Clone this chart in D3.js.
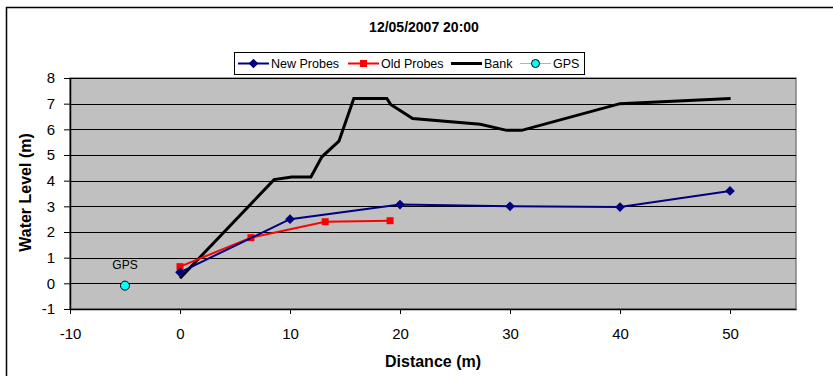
<!DOCTYPE html>
<html>
<head>
<meta charset="utf-8">
<script src="https://cdn.jsdelivr.net/npm/d3@7"></script>
<style>
  body { margin: 0; background: #fff; }
  svg { display: block; font-family: "Liberation Sans", Arial, sans-serif; }
</style>
</head>
<body>
<div id="chart"></div>
<script>
// values
const chartTitle = "12/05/2007 20:00"
const xTicks = [-10, 0, 10, 20, 30, 40, 50]
const yTicks = [-1, 0, 1, 2, 3, 4, 5, 6, 7, 8]

const newProbesX = [0, 10, 20, 30, 40, 50]
const newProbesY = [0.43, 2.5, 3.07, 3.0, 2.97, 3.6]

const oldProbesX = [0, 6.45, 13.2, 19.1]
const oldProbesY = [0.65, 1.78, 2.4, 2.44]

const bankX = [0, 8.55, 10.15, 11.9, 12.9, 14.45, 15.8, 18.8, 19.15, 21.15, 27.3, 29.7, 31.06, 40, 50.06]
const bankY = [0.2, 4.04, 4.14, 4.14, 4.93, 5.54, 7.2, 7.2, 6.97, 6.42, 6.2, 5.96, 5.96, 7.0, 7.2]

const gpsX = [-5]
const gpsY = [-0.09]

const zip = (xs, ys) => xs.map((x, i) => ({x: x, y: ys[i]}))

let dimensions = {
  width: 833,
  height: 376,
  margin: {top: 78, right: 37, bottom: 67, left: 70},
}
dimensions.boundedWidth = dimensions.width - dimensions.margin.left - dimensions.margin.right
dimensions.boundedHeight = dimensions.height - dimensions.margin.top - dimensions.margin.bottom

const svg = d3.select("#chart").append("svg")
    .attr("width", dimensions.width)
    .attr("height", dimensions.height)

// outer chart border (cropped on right and bottom)
svg.append("rect")
    .attr("x", 6.5).attr("y", 7.5)
    .attr("width", 840).attr("height", 380)
    .attr("fill", "#fff")
    .attr("stroke", "#000")
    .attr("stroke-width", 1.5)

const bounds = svg.append("g")
    .attr("transform", `translate(${dimensions.margin.left},${dimensions.margin.top})`)

const xScale = d3.scaleLinear()
    .domain([-10, 56])
    .range([0, dimensions.boundedWidth])

const yScale = d3.scaleLinear()
    .domain([-1, 8])
    .range([dimensions.boundedHeight, 0])

// plot area
bounds.append("rect")
    .attr("width", dimensions.boundedWidth)
    .attr("height", dimensions.boundedHeight)
    .attr("fill", "#c0c0c0")
    .attr("stroke", "#808080")
    .attr("stroke-width", 1.5)

// gridlines
bounds.append("g")
  .selectAll("line")
  .data(yTicks.filter(d => d > -1))
  .enter().append("line")
    .attr("x1", 0)
    .attr("x2", dimensions.boundedWidth)
    .attr("y1", d => Math.round(yScale(d)) + 0.5)
    .attr("y2", d => Math.round(yScale(d)) + 0.5)
    .attr("stroke", "#000")
    .attr("stroke-width", 1)

// axes
const plainFormat = d => String(d)
const xAxis = bounds.append("g")
    .attr("transform", `translate(0,${dimensions.boundedHeight})`)
    .call(d3.axisBottom(xScale).tickValues(xTicks).tickFormat(plainFormat).tickSize(5).tickSizeOuter(0))
const yAxis = bounds.append("g")
    .call(d3.axisLeft(yScale).tickValues(yTicks).tickFormat(plainFormat).tickSize(6).tickPadding(9).tickSizeOuter(0))

;[xAxis, yAxis].forEach(ax => {
  ax.select(".domain").attr("stroke", "#000").attr("stroke-width", 1.5)
  ax.selectAll(".tick line").attr("stroke", "#000")
  ax.selectAll(".tick text")
      .attr("font-family", "Liberation Sans, Arial, sans-serif")
      .attr("font-size", 15)
      .attr("fill", "#000")
})
xAxis.selectAll(".tick text").attr("y", 30).attr("dy", 0)

// axis titles
svg.append("text")
    .attr("x", dimensions.margin.left + xScale(23))
    .attr("y", 367)
    .attr("text-anchor", "middle")
    .attr("font-size", 16)
    .attr("font-weight", "bold")
    .text("Distance (m)")

svg.append("text")
    .attr("transform", `translate(31,${dimensions.margin.top + dimensions.boundedHeight / 2 - 1}) rotate(-90)`)
    .attr("text-anchor", "middle")
    .attr("font-size", 16)
    .attr("font-weight", "bold")
    .text("Water Level (m)")

svg.append("text")
    .attr("x", 424)
    .attr("y", 32)
    .attr("text-anchor", "middle")
    .attr("font-size", 14)
    .attr("font-weight", "bold")
    .text(chartTitle)

// series
const lineGen = d3.line().x(d => xScale(d.x)).y(d => yScale(d.y))

bounds.append("path")
    .datum(zip(bankX, bankY))
    .attr("d", lineGen)
    .attr("fill", "none")
    .attr("stroke", "#000")
    .attr("stroke-width", 3)
    .attr("stroke-linejoin", "miter")

bounds.append("path")
    .datum(zip(oldProbesX, oldProbesY))
    .attr("d", lineGen)
    .attr("fill", "none")
    .attr("stroke", "#ff0000")
    .attr("stroke-width", 2)

bounds.selectAll(".old")
  .data(zip(oldProbesX, oldProbesY))
  .enter().append("rect")
    .attr("class", "old")
    .attr("x", d => xScale(d.x) - 3.5)
    .attr("y", d => yScale(d.y) - 3.5)
    .attr("width", 7)
    .attr("height", 7)
    .attr("fill", "#ff0000")

bounds.append("path")
    .datum(zip(newProbesX, newProbesY))
    .attr("d", lineGen)
    .attr("fill", "none")
    .attr("stroke", "#000080")
    .attr("stroke-width", 2)

const diamond = d3.symbol().type(d3.symbolDiamond2).size(60)
bounds.selectAll(".new")
  .data(zip(newProbesX, newProbesY))
  .enter().append("path")
    .attr("class", "new")
    .attr("d", diamond)
    .attr("transform", d => `translate(${xScale(d.x)},${yScale(d.y)})`)
    .attr("fill", "#000080")

bounds.selectAll(".gps")
  .data(zip(gpsX, gpsY))
  .enter().append("circle")
    .attr("class", "gps")
    .attr("cx", d => xScale(d.x))
    .attr("cy", d => yScale(d.y))
    .attr("r", 4.5)
    .attr("fill", "#00ffff")
    .attr("stroke", "#000")
    .attr("stroke-width", 1)

bounds.selectAll(".gpslabel")
  .data(zip(gpsX, gpsY))
  .enter().append("text")
    .attr("x", d => xScale(d.x))
    .attr("y", d => yScale(d.y) - 17)
    .attr("text-anchor", "middle")
    .attr("font-size", 12)
    .attr("fill", "#000")
    .text("GPS")

// legend
const legendItems = [
  {label: "New Probes", x: 238, color: "#000080", width: 2, marker: "diamond"},
  {label: "Old Probes", x: 348, color: "#ff0000", width: 2, marker: "square"},
  {label: "Bank", x: 451, color: "#000", width: 3, marker: null},
  {label: "GPS", x: 520, color: "#00ffff", width: 1, marker: "circle"},
]
const legend = svg.append("g")
legend.append("rect")
    .attr("x", 234.5).attr("y", 52.5)
    .attr("width", 350).attr("height", 22)
    .attr("fill", "#fff")
    .attr("stroke", "#000")
    .attr("stroke-width", 1)

const ly = 63.5
legendItems.forEach(item => {
  const g = legend.append("g")
  g.append("line")
      .attr("x1", item.x).attr("x2", item.x + 31)
      .attr("y1", ly).attr("y2", ly)
      .attr("stroke", item.color)
      .attr("stroke-width", item.width)
  const cx = item.x + 15.5
  if (item.marker == "diamond") {
    g.append("path").attr("d", diamond).attr("transform", `translate(${cx},${ly})`).attr("fill", item.color)
  } else if (item.marker == "square") {
    g.append("rect").attr("x", cx - 3.5).attr("y", ly - 3.5).attr("width", 7).attr("height", 7).attr("fill", item.color)
  } else if (item.marker == "circle") {
    g.append("circle").attr("cx", cx).attr("cy", ly).attr("r", 4).attr("fill", "#00ffff").attr("stroke", "#000")
  }
  g.append("text")
      .attr("x", item.x + 33)
      .attr("y", ly)
      .attr("dy", "0.35em")
      .attr("font-size", 12.5)
      .text(item.label)
})
</script>
</body>
</html>
